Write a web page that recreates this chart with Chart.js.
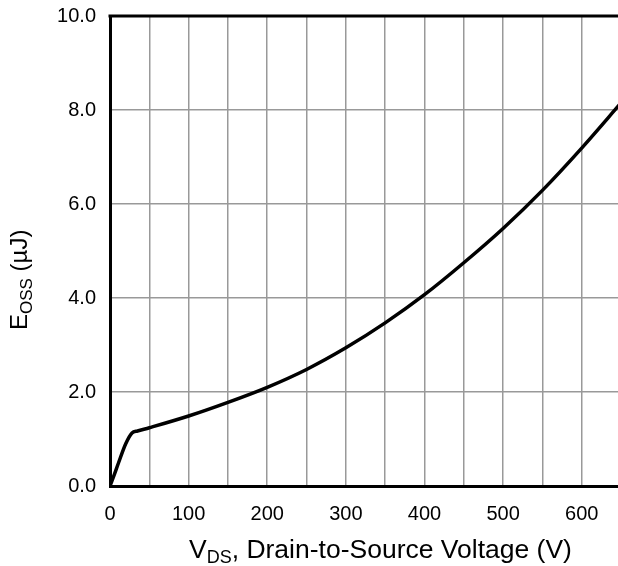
<!DOCTYPE html>
<html>
<head>
<meta charset="utf-8">
<script src="https://cdn.jsdelivr.net/npm/chart.js@4"></script>
<style>
  html, body { margin: 0; padding: 0; overflow: hidden; background: #fff; }
  canvas { display: block; margin-top: -10px; }
</style>
</head>
<body>
<canvas id="eoss" width="637" height="576"></canvas>
<script>
// drain-source voltage (V) and output-capacitance stored energy (uJ)
const vds = [0, 5, 11, 20, 28, 35, 50, 100, 150, 200, 250, 300, 350, 400, 450, 500, 550, 600, 650];
const eoss = [0, 0.22, 0.5, 0.9, 1.13, 1.17, 1.24, 1.49, 1.78, 2.1, 2.48, 2.94, 3.47, 4.07, 4.75, 5.48, 6.29, 7.19, 8.15];

const xMin = 0, xMax = 650, xStep = 50;
const yMin = 0, yMax = 10, yStep = 2;

const FONT = "'Liberation Sans', Arial, sans-serif";
const SHIFT = 10; // canvas is pulled up by this much in css

// titles with subscripts + the top frame line
const frameAndTitles = {
  id: 'frameAndTitles',
  afterDraw(chart) {
    const ctx = chart.ctx;
    const a = chart.chartArea;
    ctx.save();
    ctx.strokeStyle = '#000';
    ctx.lineWidth = 3;
    ctx.beginPath();
    ctx.moveTo(a.left - 1.5, a.top);
    ctx.lineTo(a.right, a.top);
    ctx.stroke();

    ctx.fillStyle = '#000';
    ctx.textBaseline = 'alphabetic';
    ctx.textAlign = 'left';

    // x title
    let x = 189, y = 558 + SHIFT;
    ctx.font = '26.5px ' + FONT;
    ctx.fillText('V', x, y);
    x += ctx.measureText('V').width;
    ctx.font = '18px ' + FONT;
    ctx.fillText('DS', x, y + 5);
    x += ctx.measureText('DS').width;
    ctx.font = '26.5px ' + FONT;
    ctx.fillText(', Drain-to-Source Voltage (V)', x, y);

    // y title (rotated)
    ctx.translate(27, 330 + SHIFT);
    ctx.rotate(-Math.PI / 2);
    x = 0; y = 0;
    ctx.font = '24px ' + FONT;
    ctx.fillText('E', x, y);
    x += ctx.measureText('E').width;
    ctx.font = '17px ' + FONT;
    ctx.fillText('OSS', x, y + 5);
    x += ctx.measureText('OSS').width;
    ctx.font = '24px ' + FONT;
    ctx.fillText(' (\u00b5J)', x, y);
    ctx.restore();
  }
};

const ctx = document.getElementById('eoss').getContext('2d');

const chart = new Chart(ctx, {
  type: 'line',
  data: {
    labels: vds,
    datasets: [{
      data: vds.map((v, i) => ({ x: v, y: eoss[i] })),
      borderColor: '#000',
      borderWidth: 3.5,
      pointRadius: 0,
      fill: false,
      cubicInterpolationMode: 'monotone'
    }]
  },
  options: {
    responsive: false,
    animation: false,
    layout: { padding: 0 },
    plugins: { legend: { display: false }, tooltip: { enabled: false } },
    scales: {
      x: {
        type: 'linear',
        min: xMin, max: xMax,
        afterFit: s => { s.height = 80; },
        border: { display: true, color: '#000', width: 3 },
        grid: { color: '#999', lineWidth: 1.5, drawTicks: false },
        ticks: {
          stepSize: xStep,
          padding: 16,
          maxRotation: 0,
          autoSkip: false,
          color: '#000',
          font: { family: FONT, size: 20 },
          callback: v => (v % 100 === 0 ? String(v) : '')
        }
      },
      y: {
        min: yMin, max: yMax,
        afterFit: s => { s.width = 110; },
        border: { display: true, color: '#000', width: 3 },
        grid: { color: '#999', lineWidth: 1.5, drawTicks: false },
        ticks: {
          stepSize: yStep,
          padding: 14,
          color: '#000',
          font: { family: FONT, size: 20 },
          callback: v => Number(v).toFixed(1)
        }
      }
    }
  },
  plugins: [frameAndTitles]
});
</script>
</body>
</html>
